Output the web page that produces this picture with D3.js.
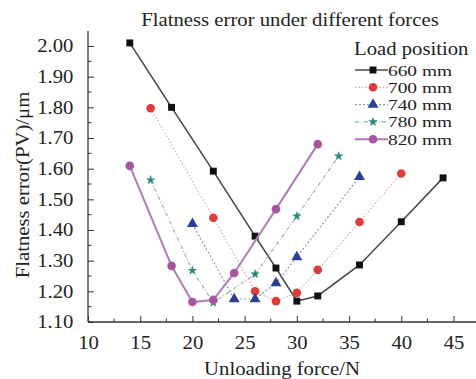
<!DOCTYPE html>
<html>
<head>
<meta charset="utf-8">
<script src="https://cdn.jsdelivr.net/npm/d3@7"></script>
<style>
  body { margin: 0; background: #fff; }
  text { font-family: "Liberation Serif", "Times New Roman", serif; fill: #222; }
</style>
</head>
<body>
<svg id="chart" width="476" height="379"></svg>
<script>
// data
var loads = ["660 mm", "700 mm", "740 mm", "780 mm", "820 mm"];
var force660 = [14, 18, 22, 26, 28, 30, 32, 36, 40, 44];
var error660 = [2.01, 1.80, 1.592, 1.38, 1.276, 1.168, 1.185, 1.286, 1.427, 1.57];
var force700 = [16, 22, 26, 28, 30, 32, 36, 40];
var error700 = [1.797, 1.44, 1.20, 1.168, 1.195, 1.27, 1.426, 1.584];
var force740 = [20, 24, 26, 28, 30, 36];
var error740 = [1.42, 1.175, 1.175, 1.227, 1.312, 1.573];
var force780 = [16, 20, 22, 26, 30, 34];
var error780 = [1.563, 1.268, 1.163, 1.256, 1.445, 1.641];
var force820 = [14, 18, 20, 22, 24, 28, 32];
var error820 = [1.609, 1.283, 1.165, 1.172, 1.26, 1.468, 1.68];
var xTicks = [10, 15, 20, 25, 30, 35, 40, 45];
var yTicks = [1.10, 1.20, 1.30, 1.40, 1.50, 1.60, 1.70, 1.80, 1.90, 2.00];

var seriesData = [
  { name: loads[0], x: force660, y: error660, line: "#4a4a4a", width: 1.6, dash: null, marker: "square", fill: "#111" },
  { name: loads[1], x: force700, y: error700, line: "#eaa8a8", width: 1.2, dash: "1.5,2", marker: "circle", fill: "#e03a3a" },
  { name: loads[2], x: force740, y: error740, line: "#8a96c4", width: 1.2, dash: "2,2", marker: "triangle", fill: "#2c3f95" },
  { name: loads[3], x: force780, y: error780, line: "#8fb0b0", width: 1.1, dash: "4,2,1,2", marker: "star", fill: "#2a8a82" },
  { name: loads[4], x: force820, y: error820, line: "#b27ab8", width: 2, dash: null, marker: "circle", fill: "#a8559f" }
];

var stretch = 1.12; // the reference type is a little wider than Liberation Serif

var svg = d3.select("#chart");

var xScale = d3.scaleLinear().domain([10, 45]).range([88, 453.5]);
var yScale = d3.scaleLinear().domain([1.10, 2.00]).range([322, 46]);

// wider serif text placed at x, y
function addText(parent, x, y, str, size, anchor) {
  return parent.append("text")
    .attr("transform", "translate(" + x + "," + y + ") scale(" + stretch + ",1)")
    .attr("text-anchor", anchor || "start")
    .style("font-size", size + "px")
    .text(str);
}

// axes lines
svg.append("line")
  .attr("x1", 88).attr("x2", 476)
  .attr("y1", yScale(1.10)).attr("y2", yScale(1.10))
  .attr("stroke", "#333").attr("stroke-width", 1.3);
svg.append("line")
  .attr("x1", 88).attr("x2", 88)
  .attr("y1", yScale(1.10)).attr("y2", yScale(2.049))
  .attr("stroke", "#333").attr("stroke-width", 1.3);

// x ticks point inward (up)
var xAxis = d3.axisBottom(xScale)
  .tickValues(xTicks)
  .tickSize(-6)
  .tickPadding(14)
  .tickFormat(d3.format("d"));
var gx = svg.append("g")
  .attr("transform", "translate(0," + yScale(1.10) + ")")
  .call(xAxis);
gx.select(".domain").remove();
gx.selectAll("line").attr("stroke", "#333");
gx.selectAll("text")
  .style("font-size", "18.5px")
  .attr("fill", "#222")
  .attr("transform", "scale(" + stretch + ",1)");

var xMinor = [12.5, 17.5, 22.5, 27.5, 32.5, 37.5, 42.5, 47.5];
svg.append("g").selectAll("line")
  .data(xMinor).enter().append("line")
  .attr("x1", function (d) { return xScale(d); })
  .attr("x2", function (d) { return xScale(d); })
  .attr("y1", yScale(1.10)).attr("y2", yScale(1.10) - 3.5)
  .attr("stroke", "#333");

// y ticks point inward (right)
var yAxis = d3.axisLeft(yScale)
  .tickValues(yTicks)
  .tickSize(-6)
  .tickPadding(13)
  .tickFormat(d3.format(".2f"));
var gy = svg.append("g")
  .attr("transform", "translate(88,0)")
  .call(yAxis);
gy.select(".domain").remove();
gy.selectAll("line").attr("stroke", "#333");
gy.selectAll("text")
  .style("font-size", "18.5px")
  .attr("fill", "#222")
  .attr("transform", "scale(" + stretch + ",1)");

var yMinor = [1.15, 1.25, 1.35, 1.45, 1.55, 1.65, 1.75, 1.85, 1.95];
svg.append("g").selectAll("line")
  .data(yMinor).enter().append("line")
  .attr("x1", 88).attr("x2", 91.5)
  .attr("y1", function (d) { return yScale(d); })
  .attr("y2", function (d) { return yScale(d); })
  .attr("stroke", "#333");

// titles
addText(svg, 290, 26, "Flatness error under different forces", 18.5, "middle");
addText(svg, 282, 375, "Unloading force/N", 18.5, "middle");

svg.append("text")
  .attr("transform", "translate(29,185) rotate(-90) scale(" + stretch + ",1)")
  .attr("text-anchor", "middle")
  .style("font-size", "18.5px")
  .text("Flatness error(PV)/\u03bcm");

var symbolFor = {
  square: d3.symbol().type(d3.symbolSquare).size(48),
  circle: d3.symbol().type(d3.symbolCircle).size(58),
  triangle: d3.symbol().type(d3.symbolTriangle).size(52),
  star: d3.symbol().type(d3.symbolStar).size(30)
};

// series
var line = d3.line()
  .x(function (d) { return xScale(d[0]); })
  .y(function (d) { return yScale(d[1]); });

var groups = svg.append("g").selectAll(".series")
  .data(seriesData)
  .enter()
  .append("g")
  .attr("class", "series");

groups.append("path")
  .attr("d", function (s) { return line(d3.zip(s.x, s.y)); })
  .attr("fill", "none")
  .attr("stroke", function (s) { return s.line; })
  .attr("stroke-width", function (s) { return s.width; })
  .attr("stroke-dasharray", function (s) { return s.dash; });

groups.each(function (s) {
  d3.select(this).selectAll("path.mark")
    .data(d3.zip(s.x, s.y))
    .enter()
    .append("path")
    .attr("class", "mark")
    .attr("d", symbolFor[s.marker])
    .attr("transform", function (d) { return "translate(" + xScale(d[0]) + "," + yScale(d[1]) + ")"; })
    .attr("fill", s.fill);
});

// legend
var legend = svg.append("g").attr("class", "legend");
addText(legend, 354, 55, "Load position", 18.5);

var rows = legend.selectAll(".row")
  .data(seriesData)
  .enter()
  .append("g")
  .attr("class", "row")
  .attr("transform", function (d, i) { return "translate(0," + (70 + i * 17.3) + ")"; });

rows.append("line")
  .attr("x1", 355).attr("x2", 388)
  .attr("stroke", function (s) { return s.line; })
  .attr("stroke-width", function (s) { return s.width; })
  .attr("stroke-dasharray", function (s) { return s.dash; });

rows.append("path")
  .attr("d", function (s) { return symbolFor[s.marker](); })
  .attr("transform", "translate(373,0)")
  .attr("fill", function (s) { return s.fill; });

rows.append("text")
  .attr("transform", "translate(388,5.5) scale(1.25,1)")
  .style("font-size", "15.5px")
  .text(function (s) { return s.name; });
</script>
</body>
</html>
